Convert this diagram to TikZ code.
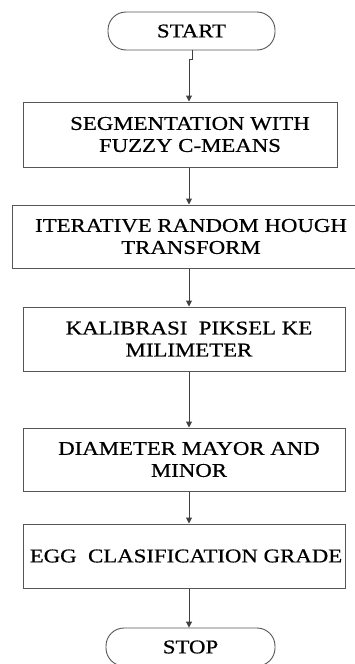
\documentclass[tikz,border=0pt]{standalone}
\usepackage{fontspec}
\setmainfont{Liberation Serif}[FakeStretch=1.17,FakeBold=0.6]
\usetikzlibrary{arrows.meta}
\definecolor{edge}{HTML}{555555}
\definecolor{linec}{HTML}{404040}
\tikzset{
  procbox/.style={draw=edge, line width=1pt, rectangle, inner sep=0pt},
  txt/.style={align=center, inner sep=0pt, font=\fontsize{19.5}{22}\selectfont, text=black},
  termbox/.style={draw=edge, line width=0.9pt, rectangle, rounded corners=18pt, align=center,
    inner sep=0pt, font=\fontsize{19.5}{22}\selectfont, text=black},
  flow/.style={draw=linec, line width=1pt, -{Triangle[length=6pt,width=6pt]}},
}
\begin{document}
\begin{tikzpicture}[x=1pt,y=-1pt]
\clip (0,0) rectangle (355,664);
\fill[white] (0,0) rectangle (355,664);
\node[termbox, minimum width=167pt, minimum height=38pt] (start) at (191.5,31) {START};
\node[procbox, minimum width=314pt, minimum height=65pt] (b1) at (180,134.5) {};
\node[txt] (t1) at (190,134.5) {SEGMENTATION WITH\\FUZZY C-MEANS};
\node[procbox, minimum width=354pt, minimum height=63pt] (b2) at (189,236.5) {};
\node[txt] (t2) at (191,236.5) {ITERATIVE RANDOM HOUGH\\TRANSFORM};
\node[procbox, minimum width=322pt, minimum height=64pt] (b3) at (184,339) {};
\node[txt] (t3) at (189,339) {KALIBRASI\ \ PIKSEL KE\\MILIMETER};
\node[procbox, minimum width=322pt, minimum height=63pt] (b4) at (184,459.5) {};
\node[txt] (t4) at (189,459.5) {DIAMETER MAYOR AND\\MINOR};
\node[procbox, minimum width=322pt, minimum height=64pt] (b5) at (184,556) {};
\node[txt] (t5) at (186,556) {EGG\ \ CLASIFICATION GRADE};
\node[termbox, minimum width=169pt, minimum height=38pt] (stop) at (190.5,647) {STOP};
\coordinate (j1) at (192,59);
\coordinate (j2) at (189,59);
\coordinate (ax) at (189,0);
\draw[flow] (start.south -| j1) -- (j1) -- (j2) -- (j2 |- b1.north);
\draw[flow] (b1.south -| ax) -- (b2.north -| ax);
\draw[flow] (b2.south -| ax) -- (b3.north -| ax);
\draw[flow] (b3.south -| ax) -- (b4.north -| ax);
\draw[flow] (b4.south -| ax) -- (b5.north -| ax);
\draw[flow] (b5.south -| ax) -- (stop.north -| ax);
\end{tikzpicture}
\end{document}
